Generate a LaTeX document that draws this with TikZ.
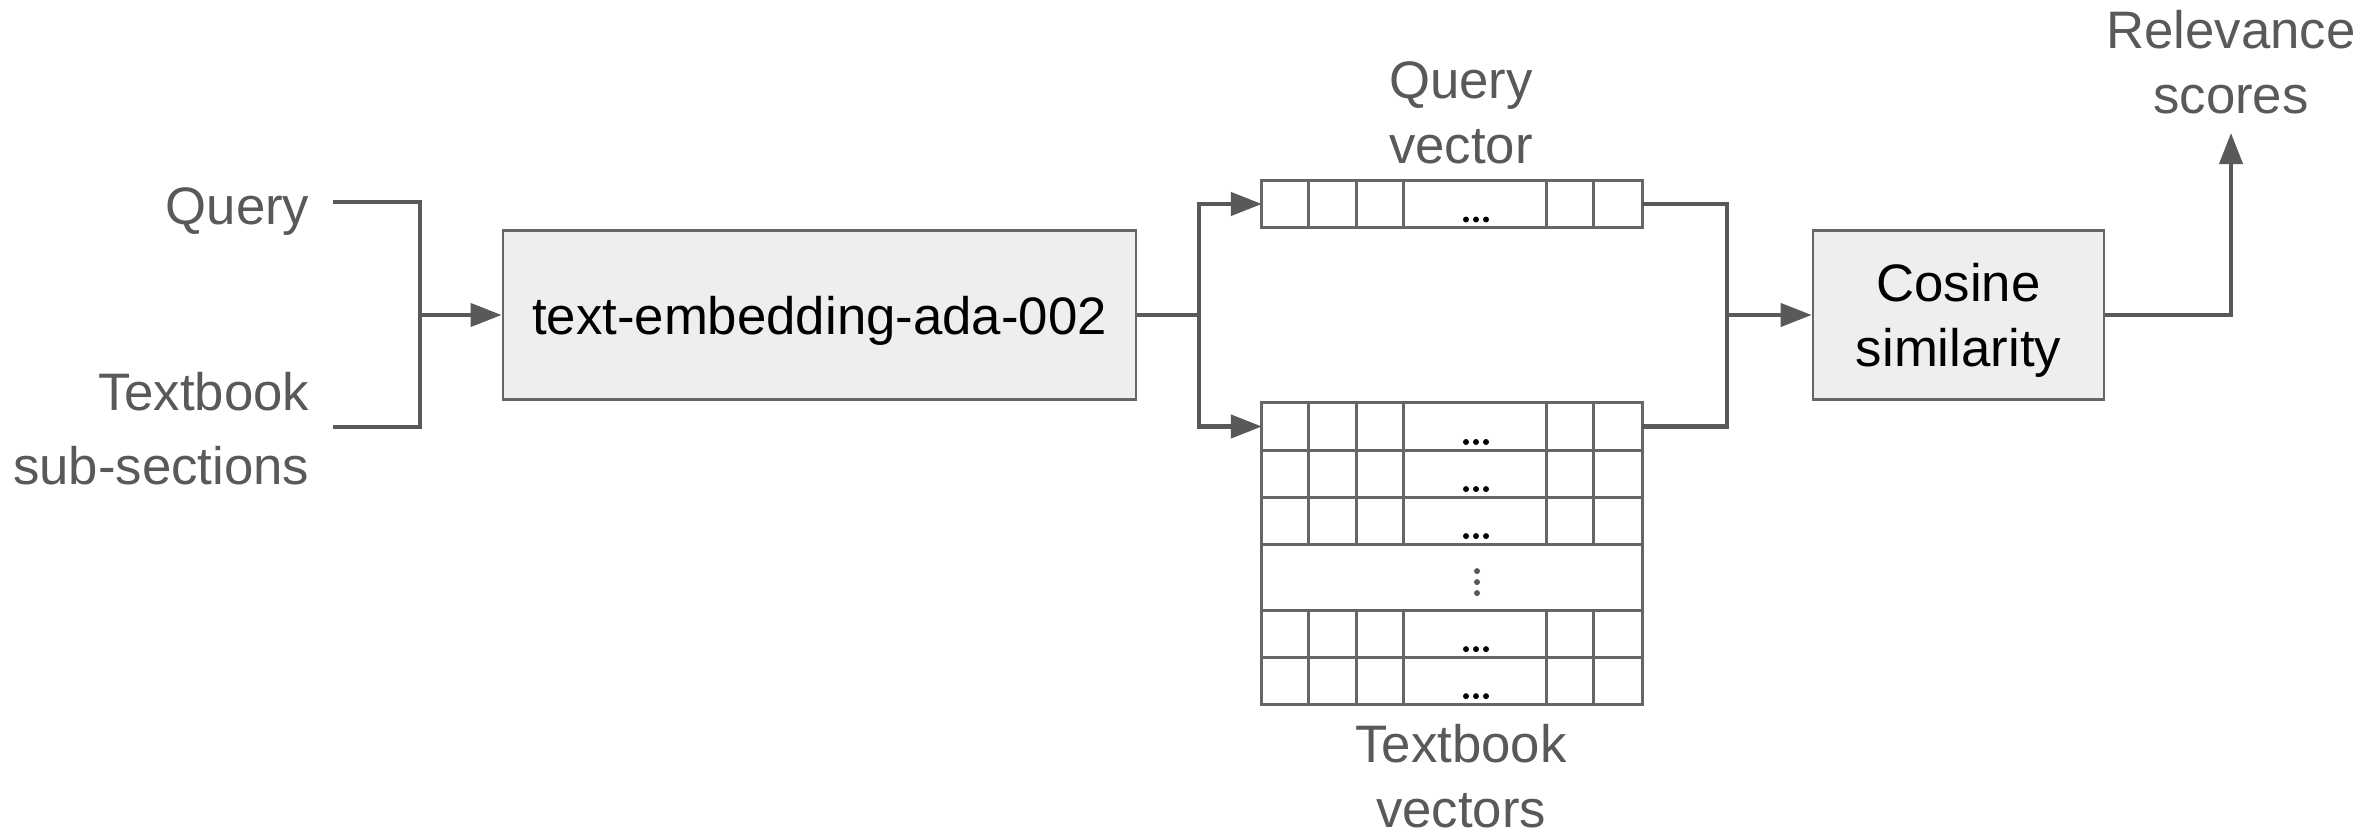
\documentclass[tikz,border=0pt]{standalone}
\usepackage{fontspec}
\setmainfont{Liberation Sans}
\usepackage{tikz}
\usetikzlibrary{positioning, arrows.meta}
\definecolor{gris}{RGB}{89,89,89}
\definecolor{borde}{RGB}{102,102,102}
\definecolor{relleno}{RGB}{238,238,238}
\tikzset{
	>={Triangle[length=0.31cm, width=0.23cm]}, % Punta de flecha triangular y llena
	cable/.style={draw=gris, line width=1.15pt}, % Lineas de conexion
	flecha/.style={cable, ->},
	caja/.style={draw=borde, fill=relleno, line width=0.7pt, minimum height=1.69cm, align=center, text depth=0pt, font=\fontsize{15}{18.5}\selectfont}, % Cajas de proceso
	etiq/.style={text=gris, inner sep=0pt, align=center, font=\fontsize{15}{18.5}\selectfont}, % Textos sueltos
	fila/.style={draw=borde, line width=0.85pt, minimum width=3.8cm, minimum height=0.47cm, inner sep=0pt, outer sep=0pt,
		path picture={
			\draw[draw=borde, line width=0.85pt] (path picture bounding box.north west) ++(47,0) -- ++(0,47) ++(48,-47) -- ++(0,47) ++(47,-47) -- ++(0,47) ++(143,-47) -- ++(0,47) ++(47,-47) -- ++(0,47);
			\fill (path picture bounding box.south) ++(14,-8) circle[radius=0.85pt] ++(10,0) circle[radius=0.85pt] ++(10,0) circle[radius=0.85pt];
		}}, % Fila de un vector
	hueco/.style={draw=borde, line width=0.85pt, minimum width=3.8cm, minimum height=0.66cm, inner sep=0pt, outer sep=0pt} % Fila con puntos verticales
}

\begin{document}
\begin{tikzpicture}[x=0.01cm, y=-0.01cm]
	\useasboundingbox (0,0) rectangle (2360,840);
	\node[etiq, anchor=north east] (qin) at (310,187) {Query};
	\node[etiq, anchor=north east, align=right, font=\fontsize{15}{20.8}\selectfont] (tin) at (310,372) {Textbook\\sub-sections};
	\coordinate (qa) at (333,202);
	\coordinate (ta) at (333,427);
	\coordinate (fork) at (420,315);
	\node[caja, minimum width=6.33cm] (emb) at (819.5,315) {text-embedding-ada-002};
	\coordinate (split) at (1199,315);
	\node[fila] (qv) at (1452,204) {};
	\node[etiq, above=0.16cm of qv, xshift=0.09cm] (qvl) {Query\\vector};
	\node[fila] (t1) at (1452,426.5) {};
	\node[fila, below=0 of t1] (t2) {};
	\node[fila, below=0 of t2] (t3) {};
	\node[hueco, below=0 of t3] (td) {};
	\node[fila, below=0 of td] (t4) {};
	\node[fila, below=0 of t4] (t5) {};
	\node[etiq, below=0.19cm of t5, xshift=0.09cm] (tvl) {Textbook\\vectors};
	\fill[gris] (td.center) ++(25,-6) circle[radius=0.85pt] ++(0,11) circle[radius=0.85pt] ++(0,11) circle[radius=0.85pt];
	\coordinate (merge) at (1727,315);
	\node[caja, minimum width=2.91cm] (cos) at (1958.5,315) {Cosine\\similarity};
	\node[etiq, anchor=south, inner ysep=0.18cm] (rel) at (2231,133) {Relevance\\scores};
	\draw[cable] (qa) -| (fork) |- (ta);
	\draw[flecha] (fork) -- (emb);
	\draw[cable] (emb) -- (split);
	\draw[flecha] (split) |- (qv);
	\draw[flecha] (split) |- (t1);
	\draw[cable] (qv) -| (merge) |- (t1);
	\draw[flecha] (merge) -- (cos);
	\draw[flecha] (cos) -| (rel);
\end{tikzpicture}
\end{document}
